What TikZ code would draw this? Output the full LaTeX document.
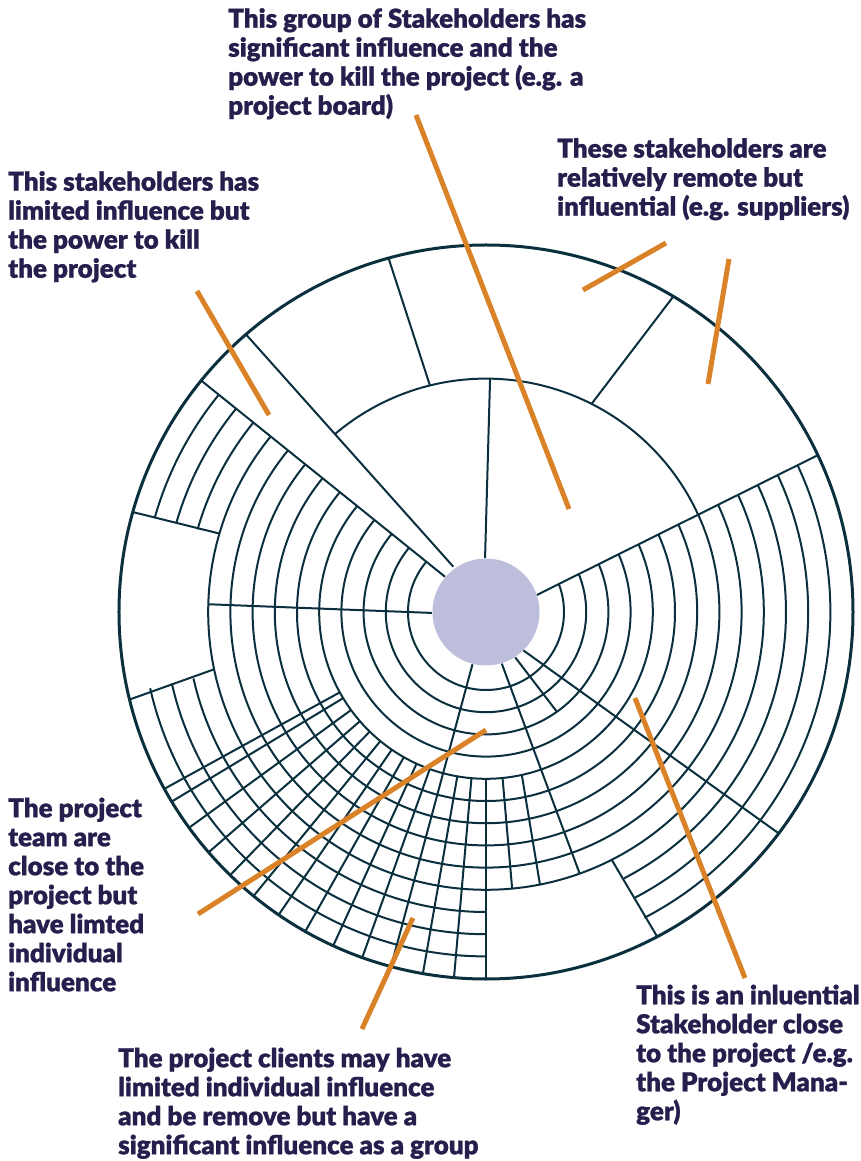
\documentclass[tikz,border=0pt]{standalone}
\usepackage{fontspec}
\setmainfont{Lato}[BoldFont={Lato Black}, BoldFeatures={FakeBold=1}]
\usetikzlibrary{positioning,calc}
\definecolor{traco}{RGB}{10,48,62}
\definecolor{laranja}{RGB}{217,130,40}
\definecolor{lilas}{RGB}{189,189,220}
\definecolor{tinta}{RGB}{37,31,77}
\tikzset{
    gridline/.style={
        draw=traco,
        line width=2pt
    },
    rim/.style={
        draw=traco,
        line width=3pt
    },
    callout/.style={
        anchor=north west,
        inner sep=0pt,
        align=left,
        text=tinta,
        font=\fontsize{26}{29}\selectfont\bfseries
    }
}

\begin{document}
\begin{tikzpicture}[x=1pt, y=1pt]
    
    % Estilo para as linhas laranja
    \tikzset{
        leader/.style={draw=laranja, line width=5pt}
    }
    
    \useasboundingbox (-486,-549) rectangle (374,612);
    
    % Pontos das divisas principais
    \coordinate (L1a) at (125.8:55.9);
    \coordinate (L1b) at (130.85:367);
    \coordinate (L2a) at (139.3:54);
    \coordinate (L2b) at (140.9:367);
    \coordinate (L3a) at (18.5:53.5);
    \coordinate (L3b) at (25.3:367);
    
    % Aneis da parte de baixo (recortados entre L3 e L2)
    \begin{scope}
        \clip ($(L3a)!1.3!(L3b)$) -- (L3a) -- (L2a) -- ($(L2a)!1.3!(L2b)$)
              -- (180:600) -- (270:600) -- (0:600) -- cycle;
        \foreach \k in {0,...,9}
            \draw[gridline] (0,0) circle ({78+22.2*\k});
        \foreach \k in {10,11,12} {
            \pgfmathsetmacro{\rk}{78+22.2*\k}
            \draw[gridline] (130:\rk) arc[start angle=130, end angle=164, radius=\rk];
            \draw[gridline] (192.8:\rk) arc[start angle=192.8, end angle=270, radius=\rk];
            \draw[gridline] (297.4:\rk) arc[start angle=297.4, end angle=400, radius=\rk];
        }
    \end{scope}
    
    % Arco interno da parte de cima
    \draw[gridline] (24.63:233.4) arc[start angle=24.63, end angle=130.3, radius=233.4];
    
    % Divisas principais
    \draw[gridline] (L1a) -- (L1b);
    \draw[gridline] (L2a) -- (L2b);
    \draw[gridline] (L3a) -- (L3b);
    
    % Divisas da parte de cima
    \draw[gridline] (91:54) -- (89:233.4);
    \draw[gridline] (103.9:233.4) -- (105.4:367);
    \draw[gridline] (63.1:233.4) -- (59.3:367);
    
    % Divisas da esquerda
    \draw[gridline] (181:54) -- (178.4:277.8);
    \draw[gridline] (163.6:277.8) -- (164.2:367);
    \draw[gridline] (191.9:277.8) -- (193.8:367);
    
    % Leque de baixo
    \foreach \a in {208.8,211.1,216,220.9,225.8,230.7,235.6,240.5,245.4,250.3,260.1,265,270}
        \draw[gridline] (\a:166.8) -- (\a:367);
    \draw[gridline] (255.5:54) -- (255:367);
    
    % Divisas da direita
    \draw[gridline] (275.7:166.8) -- (275.4:277.8);
    \draw[gridline] (282.4:166.8) -- (281.2:277.8);
    \draw[gridline] (287:54) -- (289.7:277.8);
    \draw[gridline] (302.8:54) -- (305.4:122.4);
    \draw[gridline] (314.2:53.5) -- (322.9:367);
    \draw[gridline] (296.9:277.8) -- (297.8:367);
    
    % Borda e centro
    \draw[rim] (0,0) circle (367);
    \node[circle, fill=lilas, inner sep=0pt, minimum size=107pt] (D) at (0,0) {};
    
    % Textos
    \node[callout] (T1) at (-258,604) {This group of Stakeholders has\\significant influence and the\\power to kill the project (e.g. a\\project board)};
    \node[callout] (T2) at (-478,441) {This stakeholders has\\limited influence but\\the power to kill\\the project};
    \node[callout] (T3) at (71,474) {These stakeholders are\\relatively remote but\\influential (e.g. suppliers)};
    \node[callout] (T4) at (-478,-185.5) {The project\\team are\\close to the\\project but\\have limted\\individual\\influence};
    \node[callout] (T5) at (-368,-435.5) {The project clients may have\\limited individual influence\\and be remove but have a\\significant influence as a group};
    \node[callout] (T6) at (150,-372.5) {This is an inluential\\Stakeholder close\\to the project /e.g.\\the Project Mana-\\ger)};
    
    % Pontas das linhas laranja
    \coordinate (A1) at (-70,497);   \coordinate (B1) at (83,103);
    \coordinate (A2) at (-289,321);  \coordinate (B2) at (-217,197);
    \coordinate (A3) at (180,369);   \coordinate (B3) at (97,322);
    \coordinate (A4) at (243,353);   \coordinate (B4) at (222,228);
    \coordinate (A5) at (0,-118);    \coordinate (B5) at (-288,-302);
    \coordinate (A6) at (-73,-306);  \coordinate (B6) at (-124,-417);
    \coordinate (A7) at (149,-86);   \coordinate (B7) at (259,-366);
    
    % Linhas laranja
    \draw[leader] (A1) -- (B1);
    \draw[leader] (A2) -- (B2);
    \draw[leader] (A3) -- (B3);
    \draw[leader] (A4) -- (B4);
    \draw[leader] (A5) -- (B5);
    \draw[leader] (A6) -- (B6);
    \draw[leader] (A7) -- (B7);
    
\end{tikzpicture}
\end{document}
